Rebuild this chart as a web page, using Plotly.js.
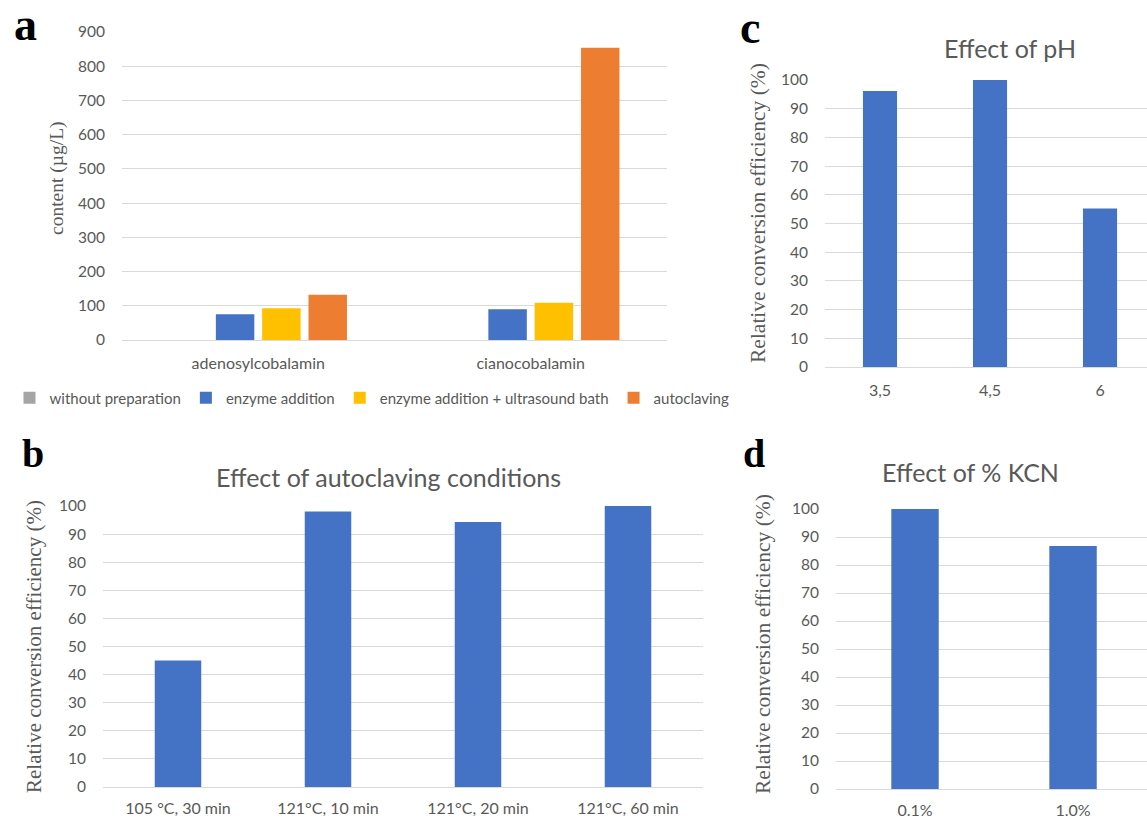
<!DOCTYPE html>
<html>
<head>
<meta charset="utf-8">
<script src="https://cdn.plot.ly/plotly-3.0.1.min.js"></script>
<style>html,body{margin:0;padding:0;background:#fff;overflow:hidden}#chart{width:1147px;height:818px}</style>
</head>
<body>
<div id="chart"></div>
<script>
// Panel a
const compounds = ["adenosylcobalamin", "cianocobalamin"];
const treatments = ["without preparation", "enzyme addition", "enzyme addition + ultrasound bath", "autoclaving"];
const withoutPreparation = [0, 0];
const enzymeAddition = [75, 90];
const enzymeUltrasound = [93, 109];
const autoclaving = [132, 854];
// Panel b
const autoclaveConditions = ["105 °C, 30 min", "121°C, 10 min", "121°C, 20 min", "121°C, 60 min"];
const autoclaveEfficiency = [45, 98, 94.3, 100];
// Panel c
const pHLevels = ["3,5", "4,5", "6"];
const pHEfficiency = [96.2, 100, 55.2];
// Panel d
const kcnLevels = ["0.1%", "1.0%"];
const kcnEfficiency = [100, 86.8];

const colors = ["#A5A5A5", "#4472C4", "#FFC000", "#ED7D31"];
const W = 1147, H = 818;
const px = v => v / W, py = v => 1 - v / H;
const gray = "#595959";
const sans = "Lato, 'Liberation Sans', sans-serif";
const yTickFont = {family: sans, size: 15.5, color: gray};
const xTickFont = {family: sans, size: 16, color: gray};
const serif = "'Liberation Serif', 'DejaVu Serif', serif";

const aSeries = [withoutPreparation, enzymeAddition, enzymeUltrasound, autoclaving];
const traces = aSeries.map((vals, i) => ({
  type: "bar", x: compounds, y: vals, name: treatments[i],
  marker: {color: colors[i]}, xaxis: "x", yaxis: "y", hoverinfo: "y"
}));
traces.push({type: "bar", x: autoclaveConditions, y: autoclaveEfficiency, width: 0.31,
  marker: {color: "#4472C4"}, xaxis: "x2", yaxis: "y2", showlegend: false});
traces.push({type: "bar", x: pHLevels, y: pHEfficiency, width: 0.31,
  marker: {color: "#4472C4"}, xaxis: "x3", yaxis: "y3", showlegend: false});
traces.push({type: "bar", x: kcnLevels, y: kcnEfficiency, width: 0.30,
  marker: {color: "#4472C4"}, xaxis: "x4", yaxis: "y4", showlegend: false});

function xax(domL, domR, range, tl) {
  const o = {domain: [px(domL), px(domR)], type: "category", showgrid: false, zeroline: false,
    showline: false, ticks: "outside", ticklen: tl, tickcolor: "rgba(0,0,0,0)",
    tickfont: xTickFont, fixedrange: true};
  if (range) o.range = range;
  return o;
}
function yax(top, bottom, range, dtick, anchor) {
  return {domain: [py(bottom), py(top)], range: range, dtick: dtick, showgrid: true,
    gridcolor: "#D9D9D9", gridwidth: 1, zeroline: true, zerolinecolor: "#D9D9D9", zerolinewidth: 1,
    showline: false, ticks: "outside", ticklen: 13, tickcolor: "rgba(0,0,0,0)",
    tickfont: yTickFont, anchor: anchor, fixedrange: true};
}
function ann(text, x, y, font, extra) {
  return Object.assign({text: text, x: px(x), y: py(y), xref: "paper", yref: "paper", showarrow: false,
    xanchor: "center", yanchor: "middle", font: font}, extra || {});
}
const letterFont = s => ({family: serif, size: s, color: "#000"});
const titleFont = {family: sans, size: 25, color: gray};

const layout = {
  width: W, height: H, margin: {l: 0, r: 0, t: 0, b: 0},
  paper_bgcolor: "#fff", plot_bgcolor: "#fff",
  barmode: "group", bargap: 0.32, bargroupgap: 0.17,
  font: {family: sans, color: gray},
  xaxis: xax(122, 667, null, 9), yaxis: yax(32, 340, [0, 900], 100, "x"),
  xaxis2: Object.assign(xax(103, 703, null, 7), {anchor: "y2"}), yaxis2: yax(506, 787, [0, 100], 10, "x2"),
  xaxis3: Object.assign(xax(825, 1147, [-0.5, 2.427], 9), {anchor: "y3"}), yaxis3: yax(80, 367, [0, 100], 10, "x3"),
  xaxis4: Object.assign(xax(836, 1147, [-0.5, 1.468], 7), {anchor: "y4"}), yaxis4: yax(509, 789, [0, 100], 10, "x4"),
  showlegend: true,
  legend: {orientation: "h", x: px(372), xanchor: "center", y: py(398), yanchor: "middle",
    font: {family: sans, size: 15, color: gray}, itemwidth: 30, traceorder: "normal",
    bgcolor: "rgba(0,0,0,0)"},
  annotations: [
    ann("<b>a</b>", 12, 25, letterFont(46), {xanchor: "left"}),
    ann("<b>b</b>", 20, 453, letterFont(40), {xanchor: "left"}),
    ann("<b>c</b>", 738, 27, letterFont(46), {xanchor: "left"}),
    ann("<b>d</b>", 741, 453, letterFont(40), {xanchor: "left"}),
    ann("Effect of autoclaving conditions", 388, 477, titleFont),
    ann("Effect of pH", 1010, 48, titleFont),
    ann("Effect of % KCN", 970, 472, titleFont),
    ann("content (µg/L)", 57, 178, {family: serif, size: 19.5, color: gray}, {textangle: -90}),
    ann("Relative conversion efficiency (%)", 34, 647, {family: serif, size: 21, color: gray}, {textangle: -90}),
    ann("Relative conversion efficiency (%)", 758, 213, {family: serif, size: 21.5, color: gray}, {textangle: -90}),
    ann("Relative conversion efficiency (%)", 763, 644, {family: serif, size: 21.5, color: gray}, {textangle: -90})
  ]
};

Plotly.newPlot("chart", traces, layout, {displayModeBar: false, staticPlot: true});
</script>
</body>
</html>
